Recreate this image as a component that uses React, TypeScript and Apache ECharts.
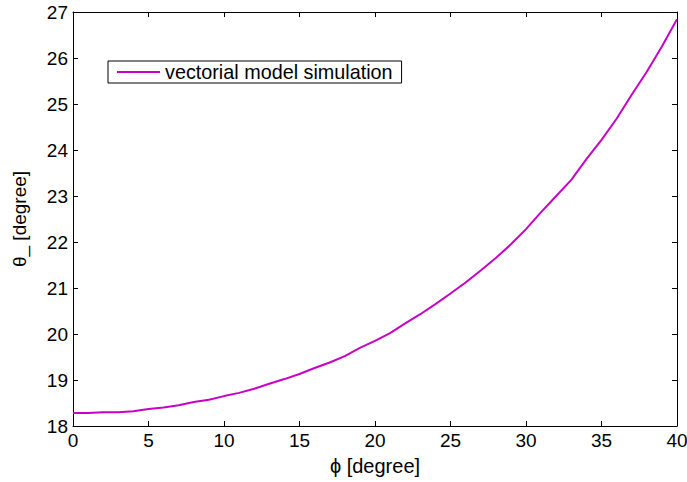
import React, { useEffect, useRef } from "react";
import * as echarts from "echarts";

const phi = [0,1,2,3,4,5,6,7,8,9,10,11,12,13,14,15,16,17,18,19,20,21,22,23,24,25,26,27,28,29,30,31,32,33,34,35,36,37,38,39,40];
const theta = [18.28,18.28,18.3,18.3,18.32,18.37,18.4,18.45,18.52,18.57,18.65,18.72,18.81,18.92,19.02,19.13,19.26,19.38,19.52,19.7,19.85,20.02,20.23,20.43,20.65,20.88,21.12,21.38,21.65,21.95,22.28,22.65,23.0,23.35,23.8,24.22,24.68,25.2,25.7,26.25,26.84];
const seriesName = "vectorial model simulation";
const xLabel = "\u03d5 [degree]";
const yLabel = "\u03b8_ [degree]";

export default function App() {
  const ref = useRef<HTMLDivElement>(null);
  useEffect(() => {
    const chart = echarts.init(ref.current!, null, { renderer: "svg" });
    const font = "Arial, 'Liberation Sans', sans-serif";
    const fs = 19;
    const axisCommon = {
      type: "value" as const,
      axisLine: { show: true, onZero: false, lineStyle: { color: "#000", width: 1 } },
      axisTick: { show: true, inside: true, length: 5, lineStyle: { color: "#000" } },
      splitLine: { show: false },
    };
    chart.setOption({
      animation: false,
      backgroundColor: "#fff",
      textStyle: { fontFamily: font },
      grid: { left: 73, top: 12, right: 10, bottom: 56, containLabel: false, outerBoundsMode: "none" },
      legend: {
        show: true,
        left: 108,
        top: 61,
        orient: "horizontal",
        itemWidth: 43,
        itemHeight: 10,
        itemGap: 5,
        borderColor: "#000",
        borderWidth: 1,
        borderRadius: 0,
        padding: [1, 9, 1, 9],
        backgroundColor: "#fff",
        icon: "path://M0,4L43,4L43,6L0,6Z",
        textStyle: { fontSize: 19.8, color: "#000", fontFamily: font, padding: [0, 0, 0, 0] },
        data: [{ name: seriesName }],
      },
      xAxis: [
        {
          ...axisCommon,
          position: "bottom",
          min: 0,
          max: 40,
          interval: 5,
          name: xLabel,
          nameLocation: "middle",
          nameGap: 30,
          nameTextStyle: { fontSize: 20, color: "#000", fontFamily: font },
          axisLabel: { fontSize: fs, color: "#000", margin: 5, fontFamily: font },
        },
        {
          ...axisCommon,
          position: "top",
          min: 0,
          max: 40,
          interval: 5,
          axisLabel: { show: false },
        },
      ],
      yAxis: [
        {
          ...axisCommon,
          position: "left",
          min: 18,
          max: 27,
          interval: 1,
          name: yLabel,
          nameLocation: "middle",
          nameGap: 44,
          nameRotate: 90,
          nameTextStyle: { fontSize: fs, color: "#000", fontFamily: font },
          axisLabel: { fontSize: fs, color: "#000", margin: 5, fontFamily: font },
        },
        {
          ...axisCommon,
          position: "right",
          min: 18,
          max: 27,
          interval: 1,
          axisLabel: { show: false },
        },
      ],
      series: [
        {
          name: seriesName,
          type: "line",
          data: phi.map((p, i) => [p, theta[i]]),
          showSymbol: false,
          smooth: false,
          color: "#C800C8",
          lineStyle: { color: "#C800C8", width: 2 },
        },
      ],
    });
    return () => chart.dispose();
  }, []);
  return <div ref={ref} style={{ position: "fixed", left: 0, top: 0, width: 687, height: 482 }} />;
}
